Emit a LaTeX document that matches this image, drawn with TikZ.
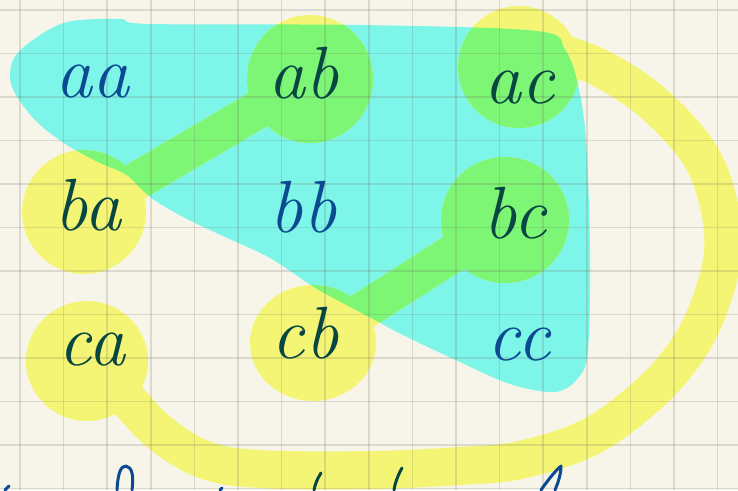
\documentclass[tikz,border=0pt]{standalone}
\usepackage{fontspec}
\usepackage{xcolor}
\usepackage{tikz}
\usetikzlibrary{calc}
\definecolor{paper}{RGB}{247,245,234}
\definecolor{gridgray}{RGB}{110,108,96}
\definecolor{hlcyan}{RGB}{125,245,232}
\definecolor{hlyellow}{RGB}{245,245,117}
\definecolor{hlgreen}{RGB}{125,245,117}
\definecolor{inkblue}{RGB}{11,74,145}
\definecolor{inkdark}{RGB}{8,70,66}

% cyan region round the upper right triangle
\newcommand{\cyanregion}{plot[smooth cycle, tension=0.55] coordinates {
    (150,24) (360,25) (537,31) (565,50) (578,85) (586,140) (590,250)
    (588,350) (578,378) (555,392) (510,384) (460,362) (403,335) (360,312)
    (317,289) (270,258) (225,237) (185,218) (150,197) (127,175) (100,163)
    (67,145) (35,120) (12,87) (13,60) (33,40) (67,22) (120,19)}}

% yellow marker: blobs and strokes
\newcommand{\markerstrokes}[1]{%
    \fill[#1] (ab-blob) ellipse [x radius=63pt, y radius=64pt];
    \fill[#1] (ac-blob) ellipse [x radius=61pt, y radius=61pt];
    \fill[#1] (ba-blob) ellipse [x radius=62pt, y radius=62pt];
    \fill[#1] (bc-blob) ellipse [x radius=64pt, y radius=63pt];
    \fill[#1] (ca-blob) ellipse [x radius=61pt, y radius=60pt];
    \fill[#1] (cb-blob) ellipse [x radius=63pt, y radius=58pt];
    \draw[#1, band] (ba-blob) -- (ab-blob);
    \draw[#1, band] (cb-blob) -- (bc-blob);
    \draw[#1, band] plot[smooth, tension=0.6] coordinates {($(ac-blob)+(40,-14)$)
        (600,68) (653,103) (700,155) (720,210) (722,260) (705,317) (680,360)
        (642,400) (588,438) (520,460) (460,466) (370,470) (260,469) (205,460)
        (160,433) (125,397) (ca-blob)};
}

\begin{document}
\begin{tikzpicture}[x=1pt, y=-1pt,
    band/.style={line width=38pt, line cap=round, line join=round},
    gridline/.style={draw=gridgray, opacity=0.2, line width=1.5pt},
    word/.style={anchor=base, inner sep=0pt,
        font=\fontsize{74}{74}\selectfont\itshape\addfontfeatures{LetterSpace=14}},
    pen/.style={line width=3pt, line cap=round, line join=round}]
    \useasboundingbox (0,0) rectangle (738,490);

    % Paper
    \fill[paper] (0,0) rectangle (738,490);

    % Blob centres
    \coordinate (ab-blob) at (310,79);
    \coordinate (ac-blob) at (519,67);
    \coordinate (ba-blob) at (84,212);
    \coordinate (bc-blob) at (505,220);
    \coordinate (ca-blob) at (87,361);
    \coordinate (cb-blob) at (313,343);

    % Cyan marker
    \fill[hlcyan] \cyanregion;

    % Yellow marker, green where it lies on cyan
    \markerstrokes{hlyellow}
    \begin{scope}
        \clip \cyanregion;
        \markerstrokes{hlgreen}
    \end{scope}

    % Grid
    \foreach \gx in {0,...,16}
        \draw[gridline] ({20+43.6*\gx},0) -- ({20+43.6*\gx},490);
    \foreach \gy in {0,...,11}
        \draw[gridline] (0,{10+43.5*\gy}) -- (738,{10+43.5*\gy});

    % Words
    \node[word, inkblue] (aa) at (92,97) {aa};
    \node[word, inkdark] (ab) at (304,98) {ab};
    \node[word, inkdark] (ac) at (520,103) {ac};
    \node[word, inkdark] (ba) at (88,230) {ba};
    \node[word, inkblue] (bb) at (303,232) {bb};
    \node[word, inkdark] (bc) at (515,238) {bc};
    \node[word, inkdark] (ca) at (92,365) {ca};
    \node[word, inkdark] (cb) at (305,358) {cb};
    \node[word, inkblue] (cc) at (519,360) {cc};

    % Cut off writing at the bottom
    \draw[pen, inkblue] (5,490) -- (9,486);
    \draw[pen, inkblue] (117,490) .. controls (118,472) and (121,466) .. (126,466)
        .. controls (132,467) and (134,476) .. (132,490);
    \draw[pen, inkblue] (220,490) -- (222,488);
    \draw[pen, inkdark] (321,473) .. controls (317,479) and (315,485) .. (314,490);
    \draw[pen, inkdark] (402,468) .. controls (398,475) and (395,483) .. (394,490);
    \draw[pen, inkblue] (541,490) .. controls (548,480) and (556,470) .. (561,466)
        .. controls (561,474) and (558,483) .. (555,490);
\end{tikzpicture}
\end{document}
